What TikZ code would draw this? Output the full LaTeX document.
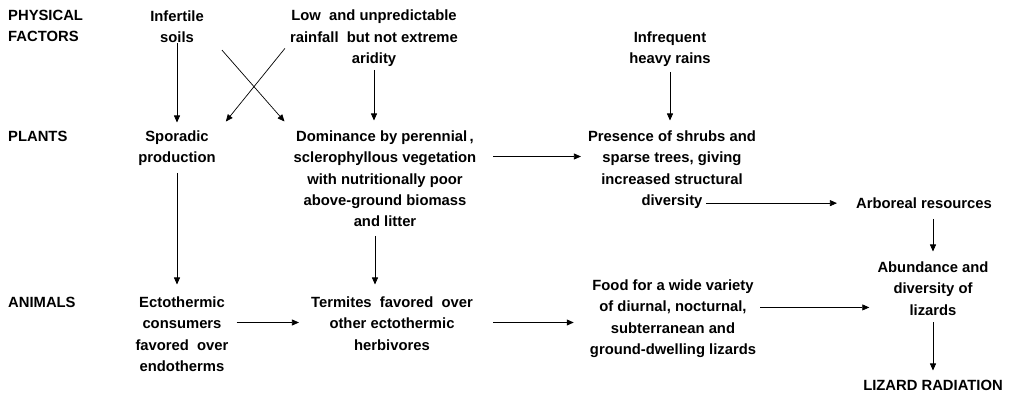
\documentclass[tikz,border=0pt]{standalone}
\usepackage{fontspec}
\setmainfont{Liberation Sans}
\usetikzlibrary{arrows.meta}
\begin{document}
\begin{tikzpicture}[x=1pt,y=-1pt,
  txt/.style={font=\bfseries\fontsize{14.8}{21.3}\selectfont, align=center, inner sep=0pt, anchor=north},
  lbl/.style={font=\bfseries\fontsize{14.8}{21.3}\selectfont, align=left, inner sep=0pt, anchor=north west},
  arr/.style={-{Triangle[length=7pt,width=6pt]}, line width=0.7pt}]
\useasboundingbox (0,0) rectangle (1023,395);
% row labels
\node[lbl] (phys) at (8,9.5) {PHYSICAL\\FACTORS};
\node[lbl] (plants) at (8,130.5) {PLANTS};
\node[lbl] (animals) at (8,296.5) {ANIMALS};
% physical factors
\node[txt] (infert) at (177,10.5) {Infertile\\soils};
\node[txt] (low) at (374,10) {Low\ \ and unpredictable\\rainfall\ \ but not extreme\\aridity};
\node[txt] (infreq) at (670,31.5) {Infrequent\\heavy rains};
% plants
\node[txt] (spor) at (177,130.5) {Sporadic\\production};
\node[txt] (dom) at (385,130.5) {Dominance by perennial\,,\\sclerophyllous vegetation\\with nutritionally poor\\above-ground biomass\\and litter};
\node[txt] (pres) at (672,130.5) {Presence of shrubs and\\sparse trees, giving\\increased structural\\diversity};
\node[txt] (arb) at (924,197.5) {Arboreal resources};
% animals
\node[txt] (ecto) at (182,296.5) {Ectothermic\\consumers\\favored\ \ over\\endotherms};
\node[txt] (term) at (392,296.5) {Termites\ \ favored\ \ over\\other ectothermic\\herbivores};
\node[txt] (food) at (673,279.5) {Food for a wide variety\\of diurnal, nocturnal,\\subterranean and\\ground-dwelling lizards};
\node[txt] (abund) at (933,261.5) {Abundance and\\diversity of\\lizards};
\node[txt] (lizrad) at (933,379.5) {LIZARD RADIATION};
% helper coordinates
\coordinate (et) at ([yshift=-26pt]ecto.north east);
\coordinate (tf) at ([yshift=-26pt]term.north east);
\coordinate (fa) at ([shift={(-8pt,-19pt)}]abund.west);
\coordinate (dp) at ([yshift=-26pt]dom.north east);
% connectors
\draw[arr] (infert.south) -- ([yshift=8pt]infert.south |- spor.north);
\draw[arr] ([shift={(18pt,-7pt)}]infert.south east) -- ([shift={(-9pt,9pt)}]dom.north west);
\draw[arr] ([shift={(-5pt,-10pt)}]low.west) -- ([shift={(10pt,9pt)}]spor.north east);
\draw[arr] ([yshift=-3pt]low.south) -- ([yshift=10pt]low.south |- dom.north);
\draw[arr] ([yshift=-5pt]infreq.south) -- ([yshift=10pt]infreq.south |- pres.north);
\draw[arr] ([xshift=17pt]dp) -- ([xshift=-7pt]dp -| pres.west);
\draw[arr] ([xshift=34pt]pres.south |- arb.west) -- ([xshift=-19pt]arb.west);
\draw[arr] ([yshift=-10pt]abund.north |- arb.south) -- ([yshift=10pt]abund.north);
\draw[arr] ([yshift=-7pt]spor.south) -- ([yshift=12pt]spor.south |- ecto.north);
\draw[arr] ([shift={(-10pt,-9pt)}]dom.south) -- ([shift={(-10pt,12pt)}]dom.south |- term.north);
\draw[arr] ([xshift=8pt]et) -- ([xshift=-12pt]et -| term.west);
\draw[arr] ([xshift=20pt]tf) -- ([xshift=-16pt]tf -| food.west);
\draw[arr] ([xshift=4pt]fa -| food.east) -- (fa);
\draw[arr] ([yshift=-7pt]abund.south) -- ([yshift=9pt]lizrad.north);
\end{tikzpicture}
\end{document}
